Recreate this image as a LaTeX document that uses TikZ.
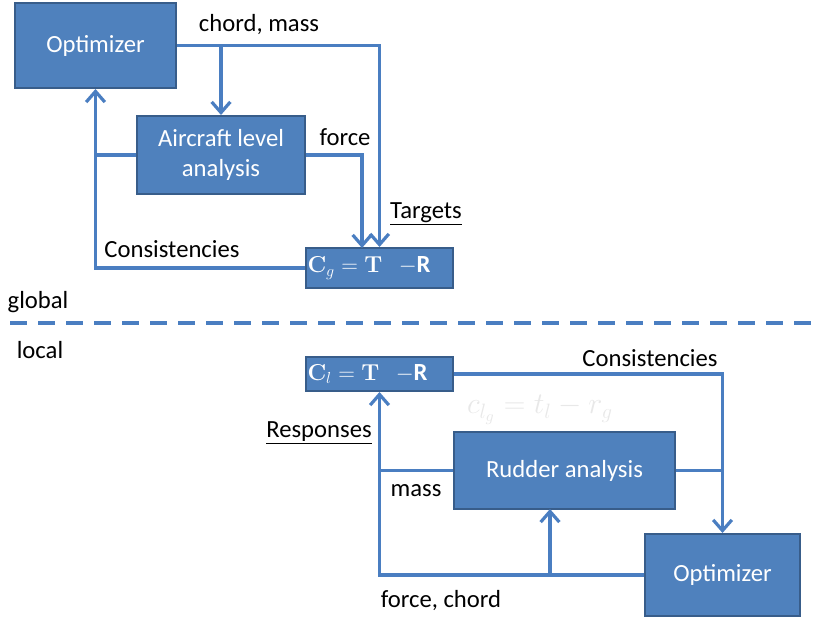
\documentclass[tikz,border=0pt]{standalone}
\usepackage[no-math]{fontspec}
\setmainfont{Carlito}
\usetikzlibrary{arrows.meta}
\definecolor{boxblue}{RGB}{79,129,189}
\definecolor{boxedge}{RGB}{56,93,138}
\definecolor{linkblue}{RGB}{74,126,193}
\definecolor{ghostgray}{RGB}{232,232,232}
\begin{document}
\begin{tikzpicture}[x=0.75pt,y=-0.75pt,font=\fontsize{18.5}{22}\selectfont,
    blk/.style={draw=boxedge,fill=boxblue,line width=1.5pt,text=white,align=center,inner sep=0pt},
    link/.style={draw=linkblue,line width=2.4pt},
    arr/.style={link,-{Straight Barb[length=8pt,width=14pt]}}]
    \useasboundingbox (0,0) rectangle (813,623);

    % global level
    \node[blk,minimum width=120.75pt,minimum height=63.75pt] (opt) at (95.5,45.5) {Optimizer};
    \node[blk,minimum width=126pt,minimum height=58.5pt] (ac) at (221,155) {Aircraft level\\analysis};
    \node[blk,minimum width=110.25pt,minimum height=30pt,text width=108pt,align=left] (cg) at (379.5,268)
        {$\mathbf{C}_g = \mathbf{T}$\ \ $-$\textbf{R}};
    \coordinate (cgin) at (362,248);

    \draw[arr] (opt.east) -| (cg.north);
    \draw[arr] (opt.east -| ac.north) -- (ac.north);
    \draw[arr] (ac.east) -| (cgin);
    \draw[arr] (cg.west) -| (opt.south);
    \draw[link] (ac.west) -- (ac.west -| opt.south);

    \node (chordmass) at (259,25) {chord, mass};
    \node (force) at (345,137) {force};
    \node (targets) at (426,214) {\underline{Targets}};
    \node (consg) at (172,249) {Consistencies};
    \node (global) at (38,302) {global};

    \coordinate (sepl) at (10,323);
    \coordinate (sepr) at (813,323);
    \draw[linkblue,line width=3pt,dash pattern=on 13pt off 8pt] (sepl) -- (sepr);

    % local level
    \node (local) at (40,350) {local};
    \node[blk,minimum width=110.25pt,minimum height=25.5pt,text width=108pt,align=left] (cl) at (379.5,374)
        {$\mathbf{C}_l = \mathbf{T}$\ \ $-$\textbf{R}};
    \node[blk,minimum width=165.75pt,minimum height=57.75pt] (ru) at (564.5,470.5) {Rudder analysis};
    \node[blk,minimum width=116.25pt,minimum height=61.5pt] (opt2) at (722.5,575) {Optimizer};
    \coordinate (ruin) at (550,509);

    \draw[arr] (cl.east) -| (opt2.north);
    \draw[link] (ru.east) -- (ru.east -| opt2.north);
    \draw[arr] (opt2.west) -| (cl.south);
    \draw[link] (ru.west) -- (ru.west -| cl.south);
    \draw[arr] (opt2.west -| ruin) -- (ruin);

    \node (consl) at (650,358) {Consistencies};
    \node[text=ghostgray,scale=1.3] (ghost) at (540,410) {$c_{l_g}=t_l-r_g$};
    \node (resp) at (319,433) {\underline{Responses}};
    \node (mass) at (416,491) {mass};
    \node (forcechord) at (441,601) {force, chord};
\end{tikzpicture}
\end{document}
